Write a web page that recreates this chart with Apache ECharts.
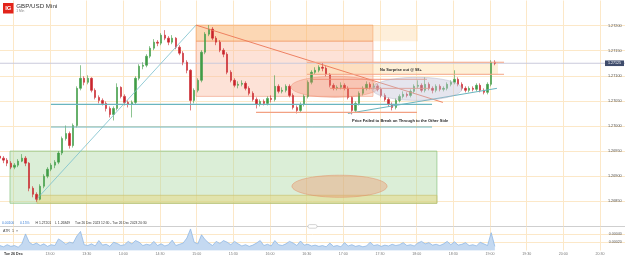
<!DOCTYPE html>
<html>
<head>
<meta charset="utf-8">
<script src="https://cdn.jsdelivr.net/npm/echarts@6.0.0/dist/echarts.min.js"></script>
<style>
html,body{margin:0;padding:0;background:#fff;}
#chart{width:625px;height:257px;}
</style>
</head>
<body>
<div id="chart"></div>
<script>
// ---------------- data ----------------
const startMinute = 19;   // first candle 12:19 (minutes after 12:00)
const stepMinutes = 3;

const opens = [
1.26940,1.26936,1.26932,1.26926,1.26918,1.26922,1.26930,1.26936,1.26926,1.26876,
1.26864,1.26854,1.26880,1.26900,1.26914,1.26922,1.26928,1.26946,1.26975,1.26985,
1.26961,1.27001,1.27075,1.27095,1.27087,1.27095,1.27071,1.27057,1.27051,1.27045,
1.27035,1.27023,1.27035,1.27077,1.27059,1.27047,1.27043,1.27047,1.27095,1.27119,
1.27121,1.27139,1.27155,1.27167,1.27165,1.27181,1.27175,1.27167,1.27175,1.27157,
1.27145,1.27127,1.27111,1.27051,1.27071,1.27091,1.27147,1.27183,1.27193,1.27175,
1.27167,1.27151,1.27143,1.27107,1.27091,1.27081,1.27083,1.27085,1.27075,1.27065,
1.27053,1.27043,1.27049,1.27045,1.27055,1.27053,1.27079,1.27069,1.27071,1.27079,
1.27061,1.27037,1.27031,1.27043,1.27059,1.27087,1.27107,1.27111,1.27117,1.27115,
1.27103,1.27081,1.27075,1.27077,1.27081,1.27075,1.27057,1.27031,1.27045,1.27065,
1.27075,1.27083,1.27077,1.27079,1.27073,1.27061,1.27053,1.27043,1.27037,1.27051,
1.27059,1.27063,1.27061,1.27069,1.27079,1.27081,1.27071,1.27083,1.27075,1.27071,
1.27079,1.27073,1.27075,1.27083,1.27087,1.27093,1.27083,1.27075,1.27071,1.27075,
1.27073,1.27081,1.27071,1.27067,1.27083,1.27127];

const closes = [
1.26936,1.26932,1.26926,1.26918,1.26922,1.26930,1.26936,1.26926,1.26876,1.26864,
1.26854,1.26880,1.26900,1.26914,1.26922,1.26928,1.26946,1.26975,1.26985,1.26961,
1.27001,1.27075,1.27095,1.27087,1.27095,1.27071,1.27057,1.27051,1.27045,1.27035,
1.27023,1.27035,1.27077,1.27059,1.27047,1.27043,1.27047,1.27095,1.27119,1.27121,
1.27139,1.27155,1.27167,1.27165,1.27181,1.27175,1.27167,1.27175,1.27157,1.27145,
1.27127,1.27111,1.27051,1.27071,1.27091,1.27147,1.27183,1.27193,1.27175,1.27167,
1.27151,1.27143,1.27107,1.27091,1.27081,1.27083,1.27085,1.27075,1.27065,1.27053,
1.27043,1.27049,1.27045,1.27055,1.27053,1.27079,1.27069,1.27071,1.27079,1.27061,
1.27037,1.27031,1.27043,1.27059,1.27087,1.27107,1.27111,1.27117,1.27115,1.27103,
1.27081,1.27075,1.27077,1.27081,1.27075,1.27057,1.27031,1.27045,1.27065,1.27075,
1.27083,1.27077,1.27079,1.27073,1.27061,1.27053,1.27043,1.27037,1.27051,1.27059,
1.27063,1.27061,1.27069,1.27079,1.27081,1.27071,1.27083,1.27075,1.27071,1.27079,
1.27073,1.27075,1.27083,1.27087,1.27093,1.27083,1.27075,1.27071,1.27075,1.27073,
1.27081,1.27071,1.27067,1.27083,1.27127,1.27125];

const highs = [
1.26946,1.26940,1.26936,1.26930,1.26926,1.26934,1.26944,1.26940,1.26928,1.26880,
1.26868,1.26884,1.26904,1.26918,1.26926,1.26932,1.26950,1.26979,1.27001,1.26989,
1.27005,1.27079,1.27121,1.27099,1.27101,1.27097,1.27075,1.27061,1.27055,1.27049,
1.27039,1.27039,1.27085,1.27079,1.27063,1.27051,1.27051,1.27099,1.27123,1.27127,
1.27143,1.27159,1.27173,1.27171,1.27185,1.27191,1.27179,1.27181,1.27177,1.27161,
1.27149,1.27131,1.27113,1.27075,1.27095,1.27151,1.27187,1.27201,1.27197,1.27179,
1.27171,1.27155,1.27147,1.27111,1.27095,1.27089,1.27091,1.27089,1.27079,1.27069,
1.27057,1.27053,1.27053,1.27059,1.27061,1.27101,1.27083,1.27077,1.27083,1.27083,
1.27065,1.27041,1.27047,1.27063,1.27091,1.27111,1.27117,1.27121,1.27125,1.27119,
1.27105,1.27085,1.27081,1.27087,1.27085,1.27079,1.27059,1.27049,1.27069,1.27079,
1.27089,1.27087,1.27085,1.27083,1.27077,1.27065,1.27057,1.27047,1.27055,1.27063,
1.27069,1.27067,1.27073,1.27083,1.27091,1.27085,1.27097,1.27087,1.27079,1.27083,
1.27083,1.27079,1.27087,1.27091,1.27111,1.27097,1.27087,1.27079,1.27079,1.27079,
1.27085,1.27085,1.27075,1.27087,1.27131,1.27131];

const lows = [
1.26932,1.26926,1.26920,1.26914,1.26914,1.26918,1.26928,1.26920,1.26870,1.26858,
1.26849,1.26852,1.26876,1.26896,1.26910,1.26916,1.26924,1.26942,1.26971,1.26955,
1.26957,1.26997,1.27071,1.27081,1.27083,1.27067,1.27053,1.27045,1.27041,1.27029,
1.27017,1.27011,1.27031,1.27055,1.27041,1.27037,1.27017,1.27043,1.27091,1.27113,
1.27117,1.27135,1.27151,1.27159,1.27161,1.27171,1.27161,1.27163,1.27153,1.27141,
1.27121,1.27105,1.27031,1.27045,1.27067,1.27087,1.27143,1.27179,1.27171,1.27161,
1.27147,1.27137,1.27103,1.27087,1.27077,1.27075,1.27079,1.27071,1.27061,1.27049,
1.27035,1.27039,1.27041,1.27041,1.27047,1.27049,1.27065,1.27065,1.27067,1.27057,
1.27033,1.27025,1.27027,1.27039,1.27055,1.27083,1.27103,1.27107,1.27109,1.27099,
1.27077,1.27071,1.27071,1.27073,1.27071,1.27053,1.27023,1.27027,1.27041,1.27061,
1.27071,1.27073,1.27073,1.27069,1.27057,1.27049,1.27039,1.27031,1.27033,1.27047,
1.27055,1.27057,1.27057,1.27065,1.27075,1.27067,1.27067,1.27071,1.27065,1.27067,
1.27069,1.27069,1.27071,1.27079,1.27083,1.27079,1.27071,1.27067,1.27067,1.27069,
1.27069,1.27067,1.27063,1.27063,1.27079,1.27121];

const atrValues = [
0.00012,0.00009,0.00014,0.00010,0.00012,0.00008,0.00016,0.00040,0.00020,0.00014,
0.00018,0.00012,0.00016,0.00010,0.00014,0.00012,0.00028,0.00022,0.00015,0.00020,
0.00018,0.00035,0.00046,0.00014,0.00012,0.00016,0.00011,0.00024,0.00013,0.00015,
0.00010,0.00020,0.00017,0.00012,0.00014,0.00022,0.00016,0.00024,0.00020,0.00012,
0.00015,0.00013,0.00022,0.00012,0.00016,0.00011,0.00014,0.00025,0.00012,0.00015,
0.00018,0.00030,0.00052,0.00020,0.00016,0.00038,0.00026,0.00018,0.00012,0.00022,
0.00017,0.00024,0.00020,0.00014,0.00022,0.00016,0.00011,0.00014,0.00010,0.00013,
0.00018,0.00024,0.00012,0.00015,0.00011,0.00024,0.00014,0.00012,0.00016,0.00022,
0.00018,0.00012,0.00023,0.00013,0.00015,0.00011,0.00013,0.00010,0.00012,0.00009,
0.00018,0.00010,0.00012,0.00009,0.00019,0.00011,0.00014,0.00010,0.00012,0.00009,
0.00011,0.00020,0.00012,0.00014,0.00010,0.00013,0.00011,0.00015,0.00012,0.00014,
0.00019,0.00012,0.00014,0.00011,0.00018,0.00022,0.00016,0.00019,0.00013,0.00015,
0.00012,0.00016,0.00022,0.00014,0.00021,0.00013,0.00015,0.00019,0.00012,0.00014,
0.00011,0.00020,0.00016,0.00012,0.00043,0.00010];

const xTickLabels = ['Tue 26 Dec','13:00','13:30','14:00','14:30','15:00','15:30','16:00',
  '16:30','17:00','17:30','18:00','18:30','19:00','19:30','20:00','20:30'];
const yTickLabels = ['1.26850','1.26900','1.26950','1.27000','1.27050','1.27100','1.27150','1.27200'];
const atrTickLabels = ['0.00020','0.00040'];

// ---------------- drawings (data units: minutes after 12:00, price) ----------------
const zoneRects = [
  {m1:27.3, p1:1.26950, m2:376.6, p2:1.26846, fill:'rgba(170,215,160,0.42)', stroke:'rgba(140,195,130,0.9)'},
  {m1:49.4, p1:1.26862, m2:376.6, p2:1.26846, fill:'rgba(232,212,120,0.45)', stroke:'rgba(200,190,110,0.8)'},
  {m1:179.5, p1:1.27169, m2:324.3, p2:1.27059, fill:'rgba(250,185,160,0.42)', stroke:'rgba(240,150,120,0.7)'},
  {m1:179.5, p1:1.27201, m2:324.3, p2:1.27169, fill:'rgba(250,175,105,0.5)', stroke:'rgba(245,160,100,0.7)'},
  {m1:324.3, p1:1.27201, m2:361.1, p2:1.27169, fill:'rgba(252,210,150,0.35)', stroke:null},
  {m1:270.3, p1:1.27127, m2:426.6, p2:1.27103, fill:'rgba(253,220,160,0.42)', stroke:null}
];
const trendLines = [
  {m1:49.4, p1:1.26855, m2:179.5, p2:1.27201, color:'#79bfcc', width:0.8},
  {m1:179.5, p1:1.27201, m2:381.5, p2:1.27047, color:'#ec7656', width:0.9},
  {m1:60.8, p1:1.27043, m2:372.6, p2:1.27043, color:'#6ab5bf', width:1.2},
  {m1:60.8, p1:1.26998, m2:372.6, p2:1.26998, color:'#6ab5bf', width:1},
  {m1:303.8, p1:1.27025, m2:425.7, p2:1.27075, color:'#6ab5bf', width:1},
  {m1:228.6, p1:1.27027, m2:360.3, p2:1.27027, color:'#f2a183', width:1.2},
  {m1:270.3, p1:1.27127, m2:431.5, p2:1.27127, color:'#f4a586', width:1},
  {m1:270.3, p1:1.27103, m2:431.5, p2:1.27103, color:'#f4a586', width:1},
  {m1:275.2, p1:1.27093, m2:368.5, p2:1.27093, color:'#f08a70', width:0.9},
  {m1:289.2, p1:1.27075, m2:370.9, p2:1.27075, color:'#f08a70', width:0.9}
];
const ellipses = [
  {m:296.9, p:1.26880, rm:38.9, rp:0.00022, fill:'rgba(235,160,120,0.45)', stroke:'rgba(225,140,100,0.6)'},
  {m:293.2, p:1.27078, rm:36.0, rp:0.00021, fill:'rgba(240,140,110,0.33)', stroke:'rgba(235,130,100,0.5)'},
  {m:360.3, p:1.27074, rm:36.8, rp:0.00023, fill:'rgba(190,190,212,0.40)', stroke:'rgba(170,170,190,0.5)'}
];
const notes = [
  {m:330.0, p:1.27112, text:'No Surprise out @ 98+', size:3.9},
  {m:307.1, p:1.27010, text:'Price Failed to Break on Through to the Other Side', size:4}
];

// ---------------- build ----------------
const FF = '"Liberation Sans", Arial, sans-serif';
const times = closes.map((_, i) => startMinute + i * stepMinutes);
const candleRows = times.map((t, i) => [t, opens[i], closes[i], lows[i], highs[i]]);
const atrRows = times.map((t, i) => [t, atrValues[i]]);
const lastClose = closes[closes.length - 1];

const chart = echarts.init(document.getElementById('chart'), null, {renderer: 'canvas'});

const gridLeft = -23.37, gridWidth = 660;
const peach = '#fce8c8';

const option = {
  backgroundColor: '#ffffff',
  animation: false,
  textStyle: {fontFamily: FF},
  grid: [
    {left: gridLeft, width: gridWidth, top: 0.5, height: 225.9, containLabel: false, outerBoundsMode: 'none'},
    {left: gridLeft, width: gridWidth, top: 227.3, height: 23.2, containLabel: false, outerBoundsMode: 'none'}
  ],
  xAxis: [
    {gridIndex: 0, type: 'value', min: 0, max: 540, interval: 30,
     axisLine: {show: false}, axisTick: {show: false}, axisLabel: {show: false},
     splitLine: {show: true, lineStyle: {color: peach, width: 1}}},
    {gridIndex: 1, type: 'value', min: 0, max: 540, interval: 30,
     axisLine: {show: false}, axisTick: {show: false},
     axisLabel: {show: true, margin: 1.5, fontSize: 3.6, color: '#777', fontFamily: FF,
       formatter: v => {
         const k = Math.round((v - 30) / 30);
         if (k < 0 || k >= xTickLabels.length) return '';
         return k === 0 ? '{b|' + xTickLabels[0] + '}' : xTickLabels[k];
       },
       rich: {b: {fontWeight: 'bold', color: '#333', fontSize: 3.6, fontFamily: FF}}},
     splitLine: {show: true, lineStyle: {color: peach, width: 1}}}
  ],
  yAxis: [
    {gridIndex: 0, type: 'value', min: 1.2680, max: 1.2725, interval: 0.0005, position: 'right',
     axisLine: {show: false}, axisTick: {show: false},
     axisLabel: {inside: true, margin: 15, fontSize: 3.8, color: '#555', fontFamily: FF,
       formatter: v => {
         const s = v.toFixed(5);
         return yTickLabels.indexOf(s) >= 0 ? s : '';
       }},
     splitLine: {show: true, lineStyle: {width: 1, color: ['#cfcfcf', peach, peach, peach, peach, peach, peach, peach, peach, 'rgba(0,0,0,0)']}}},
    {gridIndex: 1, type: 'value', min: 0, max: 0.00056, interval: 0.0002, position: 'right',
     axisLine: {show: false}, axisTick: {show: false},
     axisLabel: {inside: true, margin: 15, fontSize: 3.6, color: '#555', fontFamily: FF,
       formatter: v => {
         const s = v.toFixed(5);
         return atrTickLabels.indexOf(s) >= 0 ? s : '';
       }},
     splitLine: {show: true, lineStyle: {width: 1, color: ['rgba(0,0,0,0)', peach, peach, 'rgba(0,0,0,0)']}}}
  ],
  series: [
    {type: 'custom', xAxisIndex: 0, yAxisIndex: 0, z: 1, silent: true,
     data: zoneRects.map(d => [d.m1, d.p1, d.m2, d.p2]),
     renderItem: (params, api) => {
       const d = zoneRects[params.dataIndex];
       const a = api.coord([api.value(0), api.value(1)]);
       const b = api.coord([api.value(2), api.value(3)]);
       return {type: 'rect',
         shape: {x: Math.min(a[0], b[0]), y: Math.min(a[1], b[1]), width: Math.abs(b[0] - a[0]), height: Math.abs(b[1] - a[1])},
         style: {fill: d.fill, stroke: d.stroke || null, lineWidth: d.stroke ? 0.8 : 0}};
     }},
    {type: 'custom', xAxisIndex: 0, yAxisIndex: 0, z: 2, silent: true,
     data: [[0, lastClose, 540, lastClose]],
     renderItem: (params, api) => {
       const a = api.coord([api.value(0), api.value(1)]);
       const b = api.coord([api.value(2), api.value(3)]);
       return {type: 'line', shape: {x1: a[0], y1: a[1], x2: b[0], y2: b[1]},
         style: {stroke: '#cacadc', lineWidth: 1}};
     }},
    {type: 'candlestick', name: 'GBP/USD', xAxisIndex: 0, yAxisIndex: 0, z: 3,
     dimensions: ['t', 'open', 'close', 'low', 'high'],
     encode: {x: 't', y: ['open', 'close', 'low', 'high']},
     data: candleRows,
     barWidth: 1.6,
     itemStyle: {color: '#3f9c47', color0: '#c9252c', borderColor: '#3f9c47', borderColor0: '#c9252c', borderWidth: 0.6}},
    {type: 'custom', xAxisIndex: 0, yAxisIndex: 0, z: 4, silent: true,
     data: trendLines.map(d => [d.m1, d.p1, d.m2, d.p2]),
     renderItem: (params, api) => {
       const d = trendLines[params.dataIndex];
       const a = api.coord([api.value(0), api.value(1)]);
       const b = api.coord([api.value(2), api.value(3)]);
       return {type: 'line', shape: {x1: a[0], y1: a[1], x2: b[0], y2: b[1]},
         style: {stroke: d.color, lineWidth: d.width}};
     }},
    {type: 'custom', xAxisIndex: 0, yAxisIndex: 0, z: 5, silent: true,
     data: ellipses.map(d => [d.m, d.p, d.rm, d.rp]),
     renderItem: (params, api) => {
       const d = ellipses[params.dataIndex];
       const c = api.coord([api.value(0), api.value(1)]);
       const rx = api.size([api.value(2), 0])[0];
       const ry = api.size([0, api.value(3)])[1];
       return {type: 'ellipse', shape: {cx: c[0], cy: c[1], rx: rx, ry: ry},
         style: {fill: d.fill, stroke: d.stroke, lineWidth: 0.8}};
     }},
    {type: 'custom', xAxisIndex: 0, yAxisIndex: 0, z: 6, silent: true,
     data: notes.map(d => [d.m, d.p]),
     renderItem: (params, api) => {
       const d = notes[params.dataIndex];
       const c = api.coord([api.value(0), api.value(1)]);
       return {type: 'text', x: c[0], y: c[1],
         style: {text: d.text, fill: '#2b2b2b', font: 'bold ' + d.size + 'px ' + FF, align: 'left', verticalAlign: 'middle'}};
     }},
    {type: 'custom', xAxisIndex: 0, yAxisIndex: 0, z: 7, silent: true,
     data: [[514.1, lastClose]],
     renderItem: (params, api) => {
       const c = api.coord([api.value(0), api.value(1)]);
       return {type: 'group', children: [
         {type: 'rect', shape: {x: c[0], y: c[1] - 2.8, width: 19, height: 5.6}, style: {fill: '#3f4c6c'}},
         {type: 'text', x: c[0] + 9.5, y: c[1], style: {text: lastClose.toFixed(5), fill: '#fff', font: '3.6px ' + FF, align: 'center', verticalAlign: 'middle'}}
       ]};
     }},
    {type: 'line', name: 'ATR', xAxisIndex: 1, yAxisIndex: 1, data: atrRows, showSymbol: false, symbol: 'none',
     lineStyle: {color: '#86b2e2', width: 0.7}, areaStyle: {color: '#c4d9f1', opacity: 1}, silent: true}
  ],
  graphic: [
    {type: 'rect', x: 3, y: 3, shape: {width: 10.5, height: 10.5}, style: {fill: '#e2231a'}, z: 100},
    {type: 'text', x: 8.3, y: 8.4, style: {text: 'IG', fill: '#ffffff', font: 'bold 6px ' + FF, align: 'center', verticalAlign: 'middle'}, z: 101},
    {type: 'text', x: 16.3, y: 6, style: {text: 'GBP/USD Mini', fill: '#333333', font: '6.2px ' + FF, align: 'left', verticalAlign: 'middle'}, z: 100},
    {type: 'text', x: 16.3, y: 10.8, style: {text: '1 Min', fill: '#888888', font: '3.3px ' + FF, align: 'left', verticalAlign: 'middle'}, z: 100},
    {type: 'text', x: 2, y: 223, style: {text: '0.00100', fill: '#3b7fd6', font: '3.4px ' + FF, align: 'left', verticalAlign: 'middle'}, z: 100},
    {type: 'text', x: 20, y: 223, style: {text: '0.15%', fill: '#3b7fd6', font: '3.4px ' + FF, align: 'left', verticalAlign: 'middle'}, z: 100},
    {type: 'text', x: 35.5, y: 223, style: {text: 'H 1.27201', fill: '#333333', font: '3.4px ' + FF, align: 'left', verticalAlign: 'middle'}, z: 100},
    {type: 'text', x: 55, y: 223, style: {text: 'L 1.26849', fill: '#333333', font: '3.4px ' + FF, align: 'left', verticalAlign: 'middle'}, z: 100},
    {type: 'text', x: 75, y: 223, style: {text: 'Tue 26 Dec 2023 12:30 - Tue 26 Dec 2023 20:30', fill: '#333333', font: '3.3px ' + FF, align: 'left', verticalAlign: 'middle'}, z: 100},
    {type: 'text', x: 3, y: 230.8, style: {text: 'ATR  1  \u00d7', fill: '#444444', font: '3.6px ' + FF, align: 'left', verticalAlign: 'middle'}, z: 100},
    {type: 'rect', x: 308, y: 224.6, shape: {width: 9, height: 3.6, r: 1.6}, style: {fill: '#ffffff', stroke: '#b8b8b8', lineWidth: 0.6}, z: 100}
  ]
};

chart.setOption(option);
</script>
</body>
</html>
